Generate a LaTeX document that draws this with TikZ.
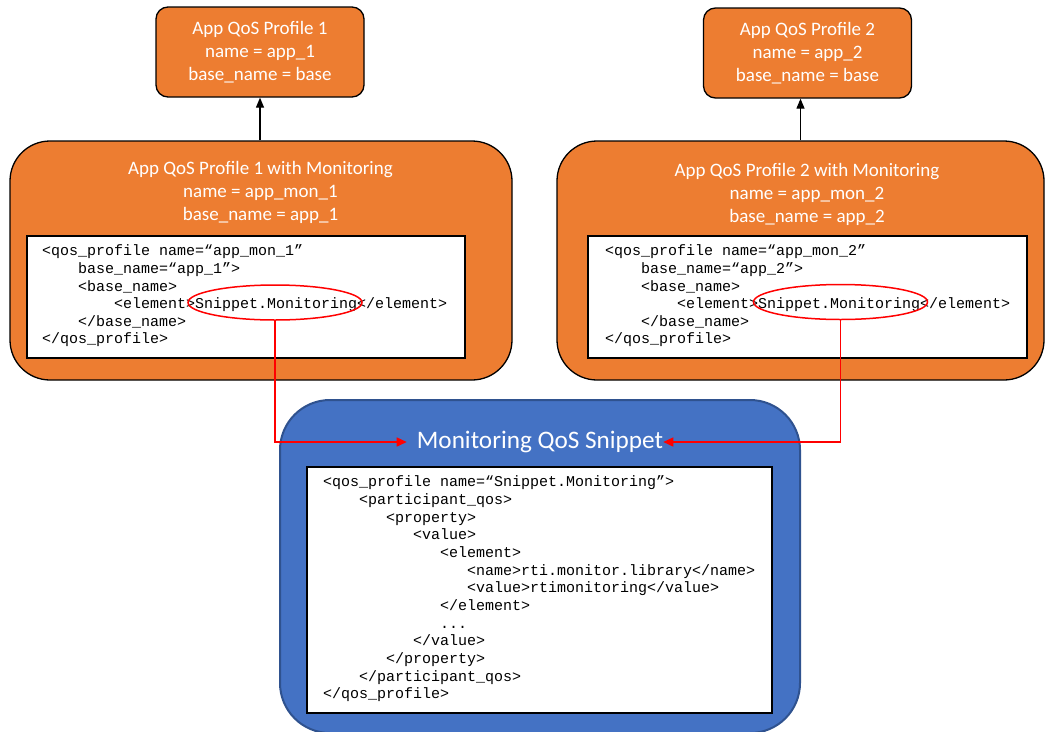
\documentclass[tikz,border=0pt]{standalone}
\usepackage{fontspec}
\newfontfamily\calib{Carlito}
\newfontfamily\codefont{Liberation Mono}
\usetikzlibrary{arrows.meta,shapes.geometric}
\definecolor{org}{HTML}{ED7D31}
\definecolor{blu}{HTML}{4472C4}
\definecolor{bluline}{HTML}{2F528F}
\definecolor{redl}{HTML}{FF0000}
\tikzset{
  smallbox/.style={draw=black,line width=1.3pt,fill=org,rounded corners=12pt,minimum width=208pt,minimum height=90pt,inner sep=0pt,text=white,font=\calib\fontsize{19}{23}\selectfont,align=center},
  bigbox/.style={draw=black,line width=1.3pt,fill=org,rounded corners=40pt,inner sep=0pt},
  snipbox/.style={draw=bluline,line width=2pt,fill=blu,rounded corners=50pt,inner sep=0pt},
  codebox/.style={draw=black,line width=1.3pt,fill=white,inner sep=0pt},
  titletext/.style={text=white,font=\calib\fontsize{19}{23}\selectfont,align=center,inner sep=0pt},
  snipttl/.style={text=white,font=\calib\fontsize{25.2}{30}\selectfont,inner ysep=0pt,inner xsep=10pt},
  codetext/.style={font=\codefont\fontsize{15}{17.6}\selectfont,align=left,anchor=west,inner sep=0pt},
  codetextb/.style={font=\codefont\fontsize{15}{17.67}\selectfont,align=left,anchor=west,inner sep=0pt},
  redell/.style={draw=redl,line width=1.5pt,ellipse,minimum width=174pt,minimum height=35pt,inner sep=0pt},
  redarrow/.style={draw=redl,line width=1.5pt,-{Triangle[length=10pt,width=9pt]}},
  blkarrow/.style={draw=black,line width=1.2pt,-{Triangle[length=10pt,width=8pt]}}
}
\begin{document}
\begin{tikzpicture}[x=1pt,y=-1pt]
\useasboundingbox (0,0) rectangle (1046,731);

% top small boxes
\node[smallbox] (p1) at (260,52) {App QoS Profile 1\\name = app\_1\\base\_name = base};
\node[smallbox] (p2) at (807.5,53) {App QoS Profile 2\\name = app\_2\\base\_name = base};

% big boxes
\node[bigbox,minimum width=502pt,minimum height=239pt] (big1) at (261,260.5) {};
\node[bigbox,minimum width=487pt,minimum height=239pt] (big2) at (800.5,260.5) {};

\node[titletext] (t1) at (260.5,192) {App QoS Profile 1 with Monitoring\\name = app\_mon\_1\\base\_name = app\_1};
\node[titletext] (t2) at (807,194) {App QoS Profile 2 with Monitoring\\name = app\_mon\_2\\base\_name = app\_2};

\node[codebox,minimum width=438pt,minimum height=122pt] (c1) at (246,297) {};
\node[codebox,minimum width=439pt,minimum height=122pt] (c2) at (807.5,297) {};

\node[codetext] (k1) at (42,296) {<qos\_profile name=“app\_mon\_1”\\
\hspace*{36pt}base\_name=“app\_1”>\\
\hspace*{36pt}<base\_name>\\
\hspace*{72pt}<element>Snippet.Monitoring</element>\\
\hspace*{36pt}</base\_name>\\
</qos\_profile>};
\node[codetext] (k2) at (605,296) {<qos\_profile name=“app\_mon\_2”\\
\hspace*{36pt}base\_name=“app\_2”>\\
\hspace*{36pt}<base\_name>\\
\hspace*{72pt}<element>Snippet.Monitoring</element>\\
\hspace*{36pt}</base\_name>\\
</qos\_profile>};

\node[redell] (e1) at (275,302.5) {};
\node[redell] (e2) at (840.5,302) {};

% bottom snippet box
\node[snipbox,minimum width=520pt,minimum height=333pt] (snip) at (540,566.5) {};
\node[snipttl] (stitle) at (540,442) {Monitoring QoS Snippet};
\node[codebox,minimum width=465pt,minimum height=246pt] (c3) at (539.5,590) {};
\node[codetextb] (k3) at (323,589) {<qos\_profile name=“Snippet.Monitoring”>\\
\hspace*{36pt}<participant\_qos>\\
\hspace*{63pt}<property>\\
\hspace*{90pt}<value>\\
\hspace*{117pt}<element>\\
\hspace*{144pt}<name>rti.monitor.library</name>\\
\hspace*{144pt}<value>rtimonitoring</value>\\
\hspace*{117pt}</element>\\
\hspace*{117pt}...\\
\hspace*{90pt}</value>\\
\hspace*{63pt}</property>\\
\hspace*{36pt}</participant\_qos>\\
</qos\_profile>};

% connectors
\draw[blkarrow] (big1.north -| p1.south) -- (p1.south);
\draw[blkarrow] (big2.north) -- (big2.north |- p2.south);
\draw[redarrow] (e1.south) |- (stitle.west);
\draw[redarrow,shorten >=-10pt] (e2.south) |- (stitle.east);
\end{tikzpicture}
\end{document}
